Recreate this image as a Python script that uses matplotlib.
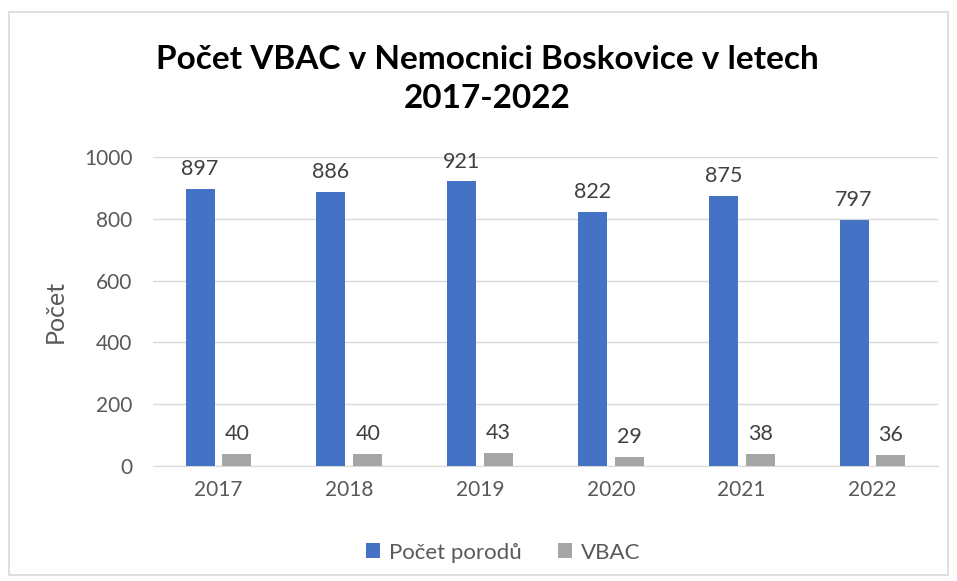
import numpy as np
import matplotlib.pyplot as plt
from matplotlib.patches import Rectangle

plt.rcParams['font.family'] = ['Lato', 'DejaVu Sans']

# data
years = ['2017', '2018', '2019', '2020', '2021', '2022']
porody = [897, 886, 921, 822, 875, 797]
vbac = [40, 40, 43, 29, 38, 36]

fig = plt.figure(figsize=(9.57, 5.81), dpi=100)
ax = fig.add_axes([0.160, 0.198, 0.820, 0.532])

# outer chart frame
fig.patches.append(Rectangle((0.009, 0.010), 0.982, 0.970, transform=fig.transFigure,
                             fill=False, edgecolor='#d9d9d9', linewidth=1.2))

x = np.arange(len(years))
w = 0.222
off = 0.141
b1 = ax.bar(x - off, porody, w, color='#4472C4', label='Počet porodů', zorder=3)
b2 = ax.bar(x + off, vbac, w, color='#A5A5A5', label='VBAC', zorder=3)

for bars in (b1, b2):
    for r in bars:
        ax.annotate(f'{int(r.get_height())}', (r.get_x() + r.get_width() / 2, r.get_height()),
                    xytext=(0, 7), textcoords='offset points', ha='center', va='bottom',
                    fontsize=15.5, color='#404040')

ax.set_xlim(-0.5, len(years) - 0.5)
ax.set_ylim(0, 1000)
ax.set_yticks(range(0, 1001, 200))
ax.set_xticks(x)
ax.set_xticklabels(years)
ax.tick_params(axis='both', length=0, labelsize=15, colors='#595959')
ax.tick_params(axis='x', pad=10)
ax.tick_params(axis='y', pad=15)
ax.grid(axis='y', color='#d9d9d9', linewidth=1, zorder=0)
for s in ax.spines.values():
    s.set_visible(False)
ax.spines['bottom'].set_visible(True)
ax.spines['bottom'].set_color('#d9d9d9')

ax.set_ylabel('Počet', fontsize=18, color='#595959', labelpad=12)

fig.text(0.509, 0.922, 'Počet VBAC v Nemocnici Boskovice v letech\n2017-2022', ha='center', va='top',
         fontsize=24, fontweight='bold', color='black', linespacing=1.42)

ax.legend(loc='center', bbox_to_anchor=(0.446, -0.28), ncol=2, frameon=False,
          fontsize=16, labelcolor='#595959', handlelength=0.65, handleheight=0.65,
          columnspacing=1.6, handletextpad=0.4)

fig.savefig('out.png', dpi=100)
